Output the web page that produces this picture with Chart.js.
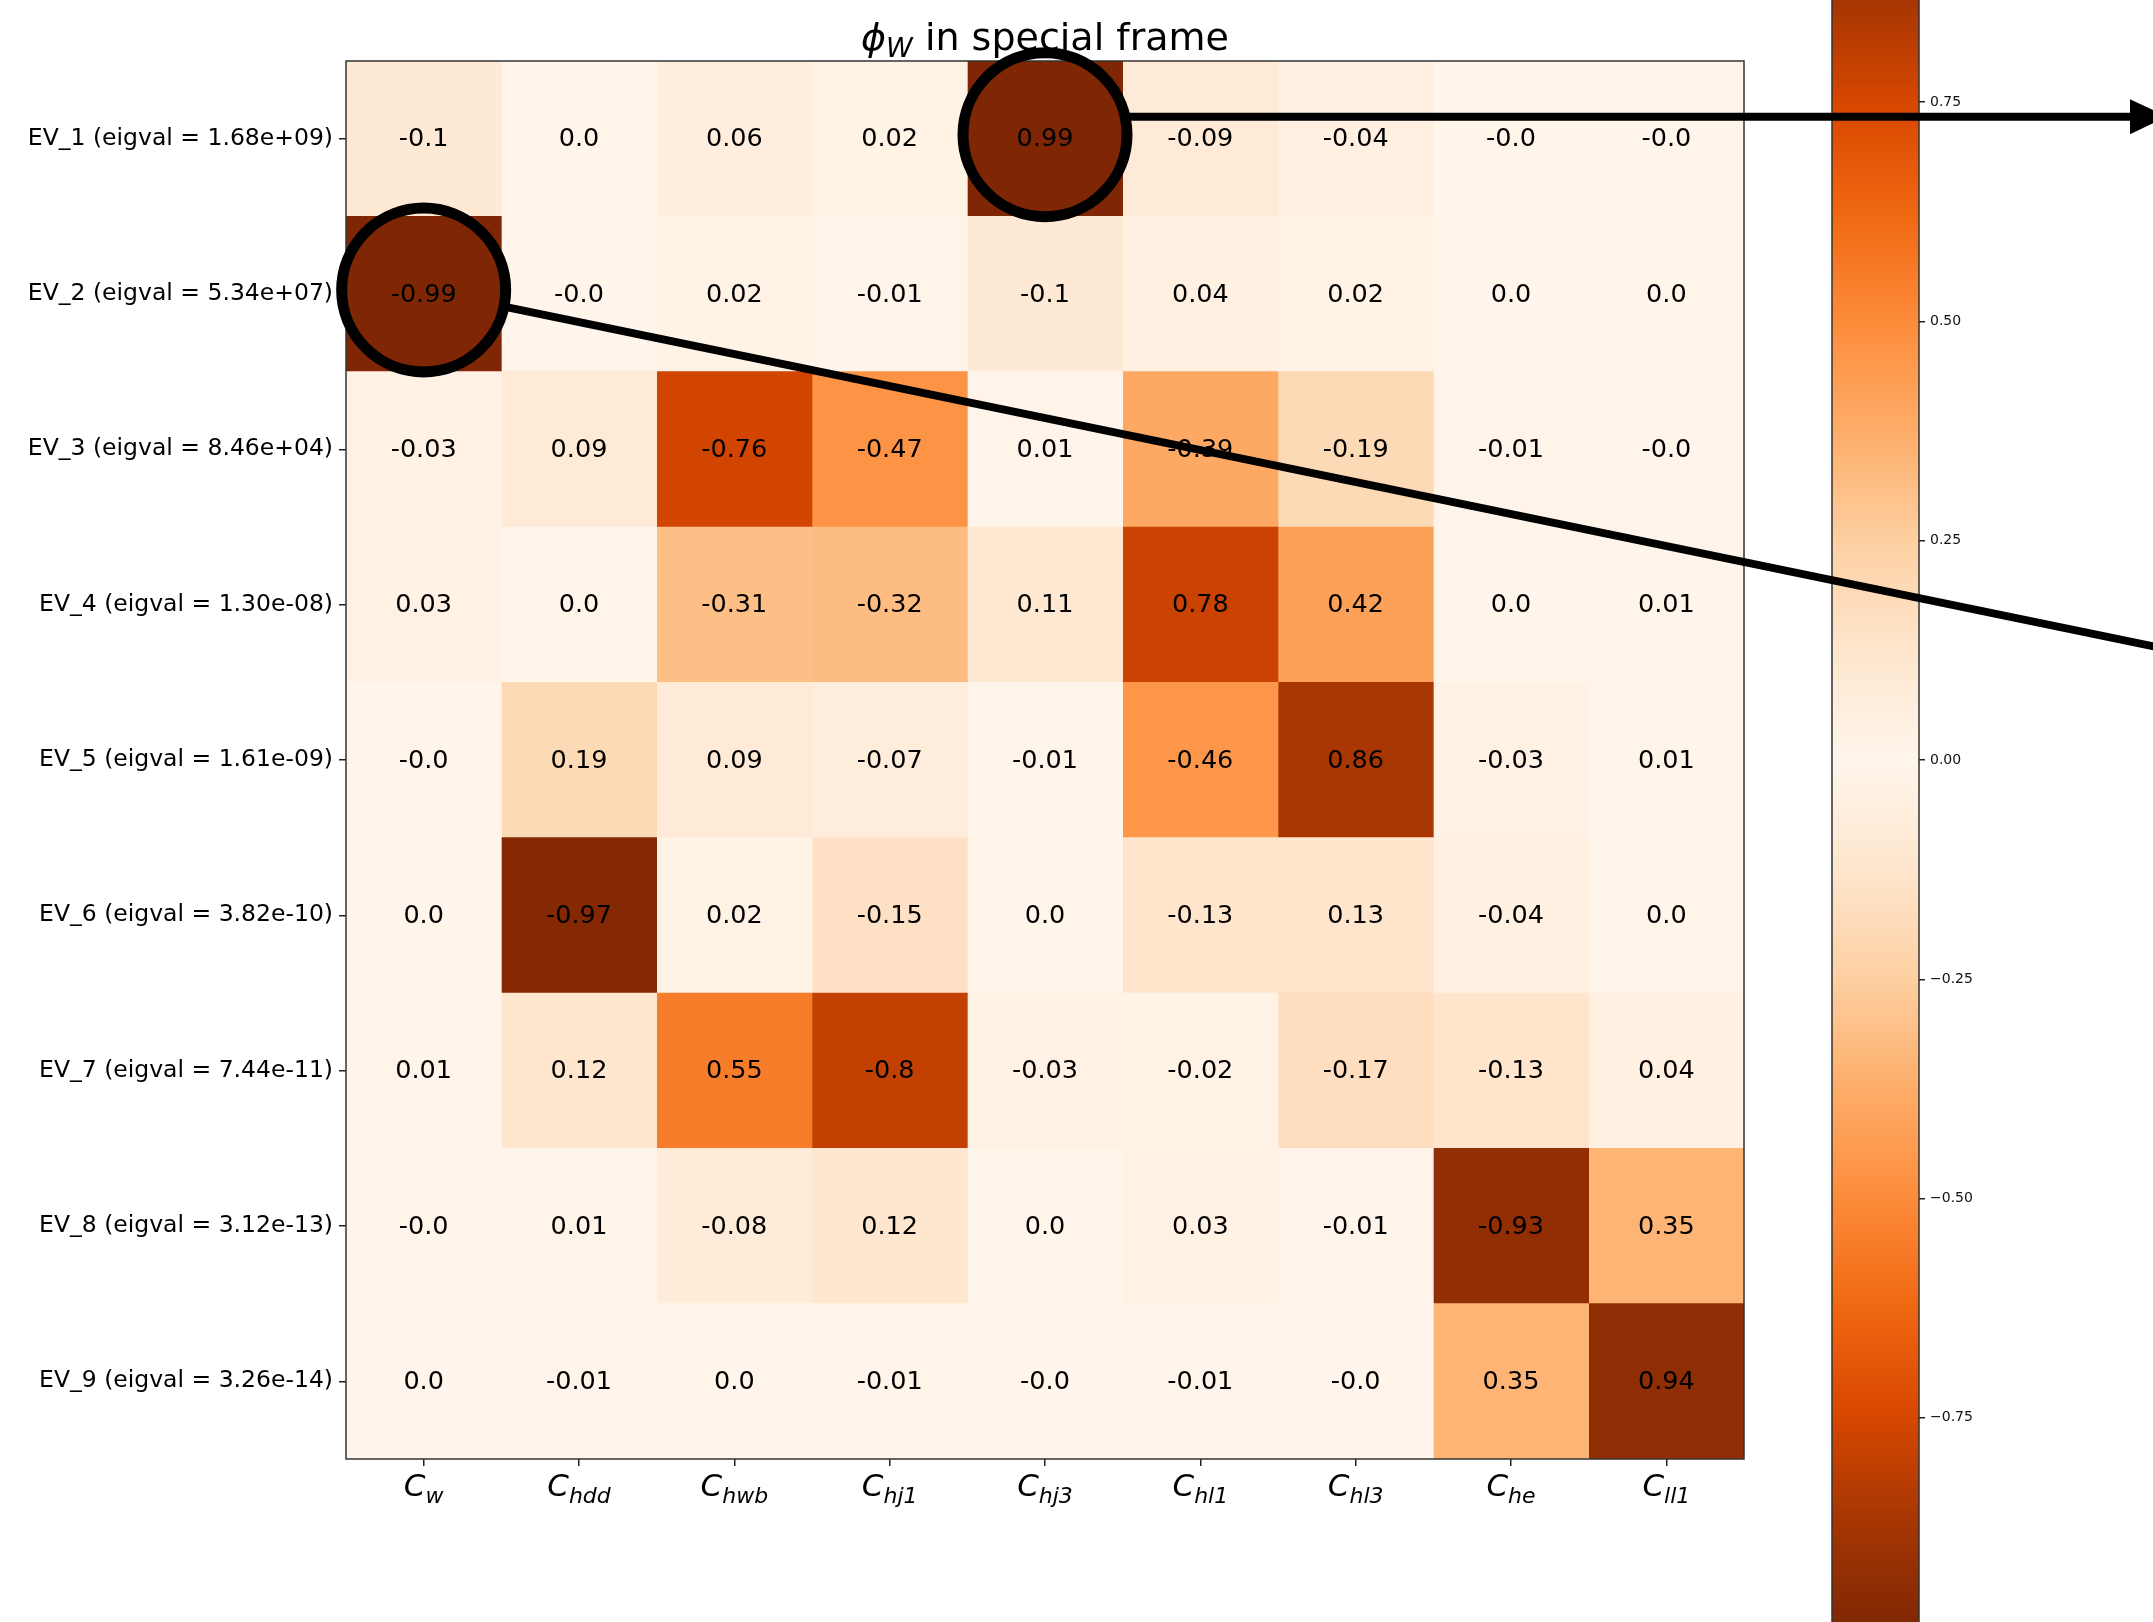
<!DOCTYPE html>
<html>
<head>
<meta charset="utf-8">
<script src="https://cdn.jsdelivr.net/npm/chart.js@4.4.1/dist/chart.umd.min.js"></script>
<style>
  html, body { margin: 0; padding: 0; background: #fff; overflow: hidden; }
  canvas { display: block; }
</style>
</head>
<body>
<canvas id="chart" width="2153" height="1622"></canvas>
<script>
// Wilson coefficients along the x axis: C with these subscripts
const COEFF_SUBSCRIPTS = ['w', 'hdd', 'hwb', 'hj1', 'hj3', 'hl1', 'hl3', 'he', 'll1'];

// Eigenvalues of each eigenvector (row labels)
const EIGVALS = ['1.68e+09', '5.34e+07', '8.46e+04', '1.30e-08', '1.61e-09',
                 '3.82e-10', '7.44e-11', '3.12e-13', '3.26e-14'];

// Eigenvector components, one array per row
const EV_1 = [-0.1, 0.0, 0.06, 0.02, 0.99, -0.09, -0.04, -0.0, -0.0];
const EV_2 = [-0.99, -0.0, 0.02, -0.01, -0.1, 0.04, 0.02, 0.0, 0.0];
const EV_3 = [-0.03, 0.09, -0.76, -0.47, 0.01, -0.39, -0.19, -0.01, -0.0];
const EV_4 = [0.03, 0.0, -0.31, -0.32, 0.11, 0.78, 0.42, 0.0, 0.01];
const EV_5 = [-0.0, 0.19, 0.09, -0.07, -0.01, -0.46, 0.86, -0.03, 0.01];
const EV_6 = [0.0, -0.97, 0.02, -0.15, 0.0, -0.13, 0.13, -0.04, 0.0];
const EV_7 = [0.01, 0.12, 0.55, -0.8, -0.03, -0.02, -0.17, -0.13, 0.04];
const EV_8 = [-0.0, 0.01, -0.08, 0.12, 0.0, 0.03, -0.01, -0.93, 0.35];
const EV_9 = [0.0, -0.01, 0.0, -0.01, -0.0, -0.01, -0.0, 0.35, 0.94];
const EIGVECS = [EV_1, EV_2, EV_3, EV_4, EV_5, EV_6, EV_7, EV_8, EV_9];

const ROW_LABELS = EIGVALS.map((e, i) => `EV_${i + 1} (eigval = ${e})`);

// Colour scale limits and colorbar ticks
const COLOR_MAX = 0.99;
const COLORBAR_TICKS = [-0.75, -0.5, -0.25, 0, 0.25, 0.5, 0.75];

// Cells that are ringed: [row, column]
const CIRCLED = [[0, 4], [1, 0]];

// ---- styling ----
const FONT = '"DejaVu Sans", "Liberation Sans", sans-serif';
const COLORBAR_VIEW = 0.797;   // colorbar value at the top/bottom of the plot area
const COLORBAR_WIDTH = 87;

// matplotlib "Oranges" anchor colours
const ORANGES = [[255,245,235],[254,230,206],[253,208,162],[253,174,107],[253,141,60],
                 [241,105,19],[217,72,1],[166,54,3],[127,39,4]];
function oranges(t) {
  t = Math.max(0, Math.min(1, t));
  const x = t * (ORANGES.length - 1);
  const i = Math.min(ORANGES.length - 2, Math.floor(x));
  const f = x - i;
  const a = ORANGES[i], b = ORANGES[i + 1];
  return `rgb(${a.map((c, k) => Math.round(c + (b[k] - c) * f)).join(',')})`;
}
const cellColor = v => oranges(Math.abs(v) / COLOR_MAX);

// Python-style float formatting (keeps "-0.0" and "0.0")
function pyStr(v) {
  if (Object.is(v, -0)) return '-0.0';
  if (Number.isInteger(v)) return v.toFixed(1);
  return String(v);
}

// One dataset per column; each cell is a floating bar spanning one column
const datasets = COEFF_SUBSCRIPTS.map((sub, j) => ({
  label: 'C_' + sub,
  data: EIGVECS.map(() => [j, j + 1]),
  backgroundColor: EIGVECS.map(row => cellColor(row[j])),
  borderWidth: 0,
  grouped: false,
  barPercentage: 1,
  categoryPercentage: 1
}));

// Cell value labels
const cellLabels = {
  id: 'cellLabels',
  afterDatasetsDraw(chart) {
    const { ctx, scales: { x, y } } = chart;
    ctx.save();
    ctx.font = `25.5px ${FONT}`;
    ctx.fillStyle = '#000';
    ctx.textAlign = 'center';
    ctx.textBaseline = 'alphabetic';
    EIGVECS.forEach((row, i) => {
      row.forEach((v, j) => {
        ctx.fillText(pyStr(v), x.getPixelForValue(j + 0.5), y.getPixelForValue(i) + 7.5);
      });
    });
    ctx.restore();
  }
};

// Axes frame, colorbar, title and mathtext-style x labels
const decorations = {
  id: 'decorations',
  beforeDatasetsDraw(chart) {
    const { ctx, scales: { cbar } } = chart;
    const top = cbar.getPixelForValue(COLOR_MAX);
    const bottom = cbar.getPixelForValue(-COLOR_MAX);
    const right = cbar.left;
    const left = right - COLORBAR_WIDTH;
    const grad = ctx.createLinearGradient(0, top, 0, bottom);
    const n = ORANGES.length - 1;
    for (let s = n; s >= -n; s--) {
      grad.addColorStop((1 - s / n) / 2, oranges(Math.abs(s) / n));
    }
    ctx.save();
    ctx.fillStyle = grad;
    ctx.fillRect(left, top, COLORBAR_WIDTH, bottom - top);
    ctx.strokeStyle = '#333';
    ctx.lineWidth = 1.5;
    ctx.strokeRect(left, top, COLORBAR_WIDTH, bottom - top);
    ctx.restore();
  },
  afterDatasetsDraw(chart) {
    const { ctx, chartArea: a, scales: { x } } = chart;
    ctx.save();
    // frame
    ctx.strokeStyle = '#333';
    ctx.lineWidth = 1.5;
    ctx.strokeRect(a.left, a.top, a.right - a.left, a.bottom - a.top);

    // title: ϕ_W in special frame
    const mainFont = `38px ${FONT}`, itFont = `italic 38px ${FONT}`, subFont = `italic 27px ${FONT}`;
    ctx.fillStyle = '#000';
    ctx.textBaseline = 'alphabetic';
    ctx.textAlign = 'left';
    ctx.font = itFont; const w1 = ctx.measureText('\u03D5').width;
    ctx.font = subFont; const w2 = ctx.measureText('W').width;
    ctx.font = mainFont; const w3 = ctx.measureText(' in special frame').width;
    let tx = (a.left + a.right) / 2 - (w1 + w2 + w3) / 2;
    const tb = a.top - 11;
    ctx.font = itFont; ctx.fillText('\u03D5', tx, tb); tx += w1;
    ctx.font = subFont; ctx.fillText('W', tx, tb + 7); tx += w2;
    ctx.font = mainFont; ctx.fillText(' in special frame', tx, tb);

    // x labels: C with subscript
    const baseFont = `italic 31px ${FONT}`, lowFont = `italic 22px ${FONT}`;
    const lb = a.bottom + 37;
    COEFF_SUBSCRIPTS.forEach((sub, j) => {
      ctx.font = baseFont; const wc = ctx.measureText('C').width;
      ctx.font = lowFont; const ws = ctx.measureText(sub).width;
      const lx = x.getPixelForValue(j + 0.5) - (wc + ws) / 2;
      ctx.font = baseFont; ctx.fillText('C', lx, lb);
      ctx.font = lowFont; ctx.fillText(sub, lx + wc, lb + 7);
    });
    ctx.restore();
  }
};

// Black rings around highlighted cells, with an arrow and a pointer line
const rings = {
  id: 'rings',
  afterDraw(chart) {
    const { ctx, width, scales: { x, y } } = chart;
    const R = 82;
    const centers = CIRCLED.map(([r, c]) => ({ x: x.getPixelForValue(c + 0.5), y: y.getPixelForValue(r) - 4 }));
    ctx.save();
    ctx.strokeStyle = '#000';
    ctx.fillStyle = '#000';
    ctx.lineCap = 'butt';
    ctx.lineWidth = 11;
    centers.forEach(p => { ctx.beginPath(); ctx.arc(p.x, p.y, R, 0, 2 * Math.PI); ctx.stroke(); });

    // horizontal arrow from the first ring
    const p = centers[0];
    const dy = 18;
    const ay = p.y - dy;
    const headBase = width - 23;
    ctx.lineWidth = 8;
    ctx.beginPath();
    ctx.moveTo(p.x + Math.sqrt(R * R - dy * dy), ay);
    ctx.lineTo(headBase + 2, ay);
    ctx.stroke();
    ctx.beginPath();
    ctx.moveTo(headBase, ay - 17.5);
    ctx.lineTo(width + 14, ay);
    ctx.lineTo(headBase, ay + 17.5);
    ctx.closePath();
    ctx.fill();

    // straight pointer from the second ring
    const q = centers[1];
    const slope = 0.206;
    const ang = Math.atan(slope);
    const xEnd = width + 20;
    ctx.beginPath();
    ctx.moveTo(q.x + R * Math.cos(ang), q.y + R * Math.sin(ang));
    ctx.lineTo(xEnd, q.y + (xEnd - q.x) * slope);
    ctx.stroke();
    ctx.restore();
  }
};

new Chart(document.getElementById('chart'), {
  type: 'bar',
  data: { labels: ROW_LABELS, datasets },
  options: {
    indexAxis: 'y',
    responsive: false,
    devicePixelRatio: 1,
    animation: false,
    events: [],
    layout: { padding: { top: 61, bottom: 63, left: 0, right: 114 } },
    plugins: { legend: { display: false }, tooltip: { enabled: false }, title: { display: false } },
    scales: {
      x: {
        type: 'linear',
        position: 'bottom',
        min: 0,
        max: COEFF_SUBSCRIPTS.length,
        bounds: 'data',
        offset: false,
        grid: { drawOnChartArea: false, drawTicks: true, tickLength: 7, offset: false, color: '#222', lineWidth: 1.5 },
        border: { display: false },
        ticks: { display: false },
        afterBuildTicks: s => { s.ticks = COEFF_SUBSCRIPTS.map((_, j) => ({ value: j + 0.5 })); },
        afterFit: s => { s.height = 100; }
      },
      y: {
        type: 'category',
        position: 'left',
        offset: true,
        grid: { drawOnChartArea: false, drawTicks: true, tickLength: 7, offset: false, color: '#222', lineWidth: 1.5 },
        border: { display: false },
        ticks: { color: '#000', font: { family: FONT, size: 23.5 }, padding: 6, autoSkip: false },
        afterFit: s => { s.width = 346; }
      },
      gap: {
        type: 'linear',
        axis: 'y',
        position: 'right',
        weight: 1,
        offset: false,
        grid: { display: false, offset: false },
        border: { display: false },
        ticks: { display: false },
        afterFit: s => { s.width = 175; }
      },
      cbar: {
        type: 'linear',
        axis: 'y',
        position: 'right',
        weight: 2,
        min: -COLORBAR_VIEW,
        max: COLORBAR_VIEW,
        bounds: 'data',
        offset: false,
        grid: { drawOnChartArea: false, drawTicks: true, tickLength: 6, offset: false, color: '#222', lineWidth: 1.5 },
        border: { display: false },
        ticks: {
          color: '#111',
          font: { family: FONT, size: 14 },
          padding: 5,
          autoSkip: false,
          callback: v => (v < 0 ? '\u2212' : '') + Math.abs(v).toFixed(2)
        },
        afterBuildTicks: s => { s.ticks = COLORBAR_TICKS.map(v => ({ value: v })); },
        afterFit: s => { s.width = 120; }
      }
    }
  },
  plugins: [decorations, cellLabels, rings]
});
</script>
</body>
</html>
